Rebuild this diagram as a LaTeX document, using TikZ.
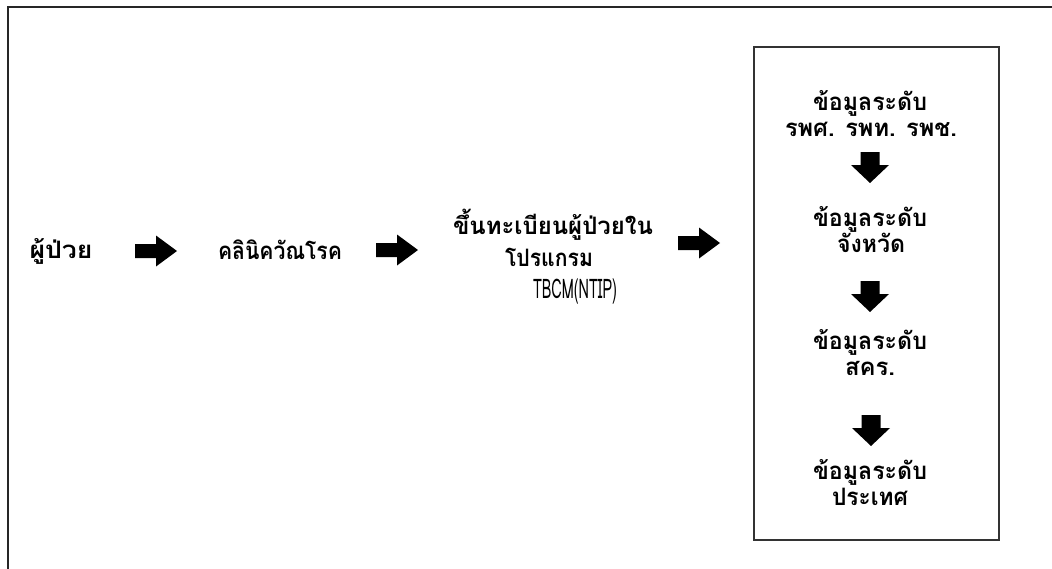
\documentclass[tikz,border=0pt]{standalone}
\usepackage{fontspec}
\usepackage{graphicx}
\newfontfamily\thaifont[Script=Thai]{Loma}
\newcommand{\thfont}{\thaifont\bfseries\fontsize{24}{28}\selectfont}
\newcommand{\fitw}[2]{\resizebox{#1pt}{\height}{#2}}
\begin{document}
\begin{tikzpicture}[x=1pt,y=-1pt,
  lbl/.style={font=\thfont, anchor=base, inner sep=0pt, text=black},
  frameline/.style={draw=black!85, line width=1.6pt},
  boxline/.style={draw=black!80, line width=1.3pt}]
\useasboundingbox (0,0) rectangle (1052,568);
\fill[white] (0,0) rectangle (1052,568);
% outer frame (only top and left edges visible)
\coordinate (fbl) at (8,570);
\coordinate (ftl) at (8,7);
\coordinate (ftr) at (1054,7);
\draw[frameline] (fbl) -- (ftl) -- (ftr);
% right box
\node[boxline, minimum width=245pt, minimum height=493pt, inner sep=0pt] (box) at (876.5,293.5) {};
% texts
\node[lbl] (patient) at (61,258) {\fitw{63}{ผู้ป่วย}};
\node[lbl] (clinic) at (280,259) {\fitw{124}{คลินิควัณโรค}};
\node[lbl] (reg1) at (553,234) {\fitw{200}{ขึ้นทะเบียนผู้ป่วยใน}};
\node[lbl] (reg2) at (549,266) {\fitw{88}{โปรแกรม}};
\node[lbl, font=\thaifont\fontsize{27}{30}\selectfont] (reg3) at (575,298) {\fitw{84}{TBCM(NTIP)}};
\node[lbl] (d1a) at (870,110) {\fitw{114}{ข้อมูลระดับ}};
\node[lbl] (d1b) at (871,136) {\fitw{172}{รพศ. รพท. รพช.}};
\node[lbl] (d2a) at (870,226) {\fitw{114}{ข้อมูลระดับ}};
\node[lbl] (d2b) at (871,252) {\fitw{68}{จังหวัด}};
\node[lbl] (d3a) at (870,349) {\fitw{114}{ข้อมูลระดับ}};
\node[lbl] (d3b) at (870,375) {\fitw{50}{สคร.}};
\node[lbl] (d4a) at (870,479) {\fitw{114}{ข้อมูลระดับ}};
\node[lbl] (d4b) at (870,505) {\fitw{76}{ประเทศ}};
% block arrows
\newcommand{\blockright}[2]{\fill[black] (#1,#2) ++(0,-7) -- ++(21,0) -- ++(0,-8.5) -- ++(21,15.5) -- ++(-21,15.5) -- ++(0,-8.5) -- ++(-21,0) -- cycle;}
\newcommand{\blockdown}[2]{\fill[black] (#1,#2) ++(-9.5,0) -- ++(0,13) -- ++(-9.5,0) -- ++(19,18) -- ++(19,-18) -- ++(-9.5,0) -- ++(0,-13) -- cycle;}
\blockright{135}{251}
\blockright{376}{250}
\blockright{678}{243}
\blockdown{870}{152}
\blockdown{870}{281}
\blockdown{871}{415}
\end{tikzpicture}
\end{document}
